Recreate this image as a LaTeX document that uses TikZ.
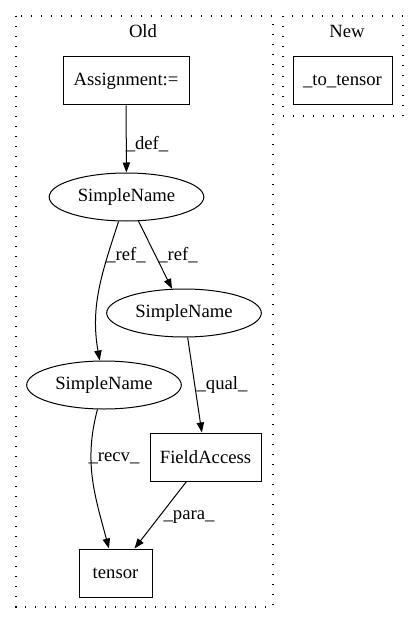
\documentclass[tikz,border=0pt]{standalone}
\usepackage{fontspec}
\setmainfont{Liberation Serif}
\usetikzlibrary{shapes.geometric,arrows.meta}
\begin{document}
\begin{tikzpicture}[x=0.75pt,y=-0.75pt,
  every node/.style={font=\fontsize{14pt}{16pt}\selectfont, inner sep=0pt},
  box/.style={draw, line width=0.75pt, minimum height=36pt},
  oval/.style={draw, ellipse, line width=0.75pt, minimum width=116pt, minimum height=36pt},
  cluster/.style={draw, line width=0.9pt, dash pattern=on 1pt off 6.5pt},
  edge/.style={line width=0.75pt, -{Triangle[length=7.5pt,width=5.5pt]}},
  lbl/.style={}]
\useasboundingbox (0,0) rectangle (419,624);
\draw[cluster] (16,16) rectangle (273,607);
\draw[cluster] (283,16) rectangle (403,116);
\node (oldlbl) at (143,31) {Old};
\node (newlbl) at (347,31) {New};

\node[box, minimum width=94.5pt] (assign) at (126,81) {Assignment:=};
\node[box, minimum width=74.25pt] (totensor) at (342.5,81) {\_to\_tensor};
\node[oval] (sn1) at (126.5,197) {SimpleName};
\node[oval] (sn2) at (184,313) {SimpleName};
\node[oval] (sn3) at (104,385) {SimpleName};
\node[box, minimum width=83.25pt] (fa) at (205.5,457) {FieldAccess};
\node[box, minimum width=54.75pt] (tensor) at (115.5,573) {tensor};

\draw[edge] (assign) -- (sn1);
\draw[edge] (sn1) to[out=-108,in=100] (sn3);
\draw[edge] (sn1) -- (sn2);
\draw[edge] (sn2) -- (fa);
\draw[edge] (sn3) to[out=-105,in=105] (tensor);
\draw[edge] (fa) -- (tensor);

\node[lbl] (ldef) at (147,144) {\_def\_};
\node[lbl] (lref1) at (126,255) {\_ref\_};
\node[lbl] (lref2) at (178,255) {\_ref\_};
\node[lbl] (lqual) at (222,385) {\_qual\_};
\node[lbl] (lrecv) at (114,458) {\_recv\_};
\node[lbl] (lpara) at (189,517) {\_para\_};
\end{tikzpicture}
\end{document}
